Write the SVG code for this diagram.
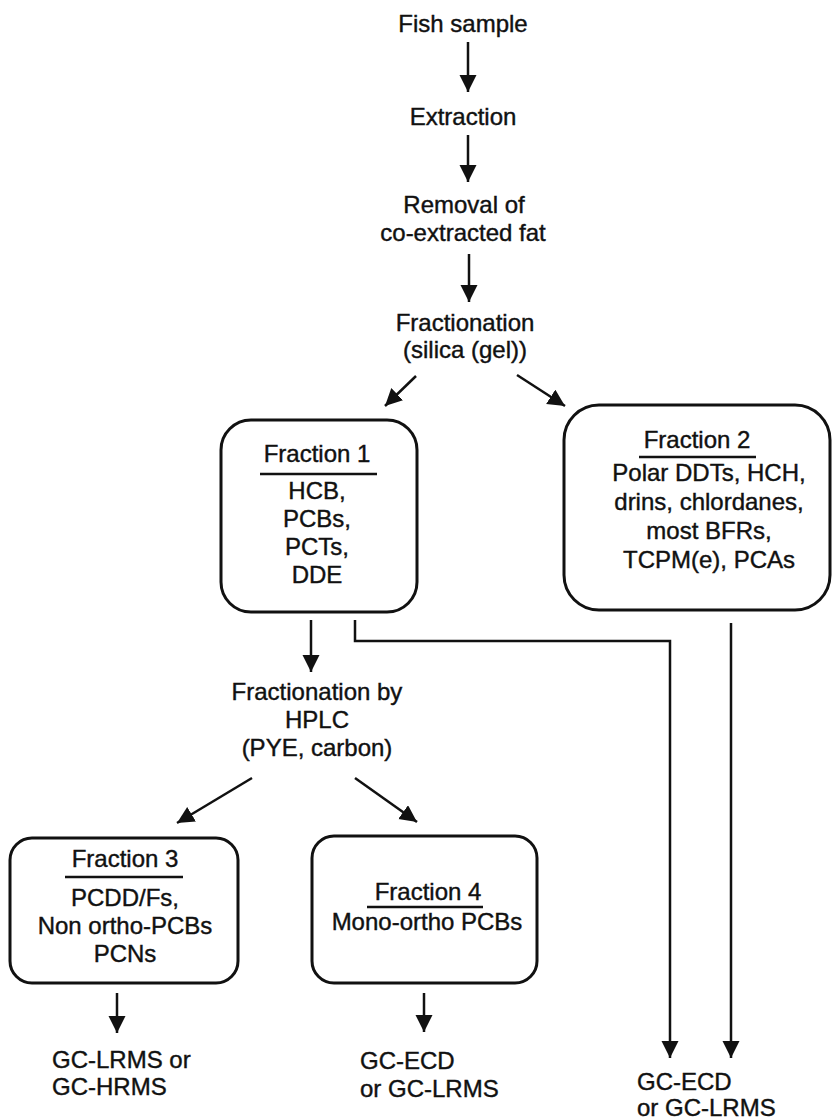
<svg xmlns="http://www.w3.org/2000/svg" width="832" height="1119" viewBox="0 0 832 1119">
<defs>
<style>
text{font-family:"Liberation Sans",Arial,sans-serif;font-size:24px;fill:#111;stroke:#111;stroke-width:0.4}
.c{text-anchor:middle}
.box{fill:none;stroke:#111;stroke-width:3}
.ul{stroke:#111;stroke-width:2.5}
.ln{fill:none;stroke:#111;stroke-width:2.5}
.arr{marker-end:url(#ah)}
</style>
<marker id="ah" markerUnits="userSpaceOnUse" markerWidth="18" markerHeight="18" refX="17" refY="8.5" orient="auto">
<path d="M0,0 L17,8.5 L0,17 z" fill="#111"/>
</marker>
</defs>
<rect width="832" height="1119" fill="#fff"/>
<g id="n1"><text class="c" x="463" y="32">Fish sample</text></g>
<g id="n2"><text class="c" x="463" y="125">Extraction</text></g>
<g id="n3"><text class="c" x="464" y="213">Removal of</text><text class="c" x="463" y="241">co-extracted fat</text></g>
<g id="n4"><text class="c" x="465" y="331">Fractionation</text><text class="c" x="465" y="358">(silica (gel))</text></g>
<g id="f1">
<rect class="box" x="221" y="420" width="196" height="192" rx="30"/>
<text class="c" x="317" y="462">Fraction 1</text>
<line class="ul" x1="260" y1="474" x2="377" y2="474"/>
<text class="c" x="317" y="499">HCB,</text>
<text class="c" x="317" y="527">PCBs,</text>
<text class="c" x="317" y="555">PCTs,</text>
<text class="c" x="317" y="583">DDE</text>
</g>
<g id="f2">
<rect class="box" x="564" y="405" width="266" height="205" rx="35"/>
<text class="c" x="697" y="448">Fraction 2</text>
<line class="ul" x1="639" y1="457" x2="756" y2="457"/>
<text class="c" x="709" y="481">Polar DDTs, HCH,</text>
<text class="c" x="709" y="510">drins, chlordanes,</text>
<text class="c" x="709" y="539">most BFRs,</text>
<text class="c" x="709" y="568">TCPM(e), PCAs</text>
</g>
<g id="n5"><text class="c" x="317" y="700">Fractionation by</text><text class="c" x="317" y="728">HPLC</text><text class="c" x="317" y="756">(PYE, carbon)</text></g>
<g id="f3">
<rect class="box" x="10" y="838" width="228" height="145" rx="22"/>
<text class="c" x="125" y="867">Fraction 3</text>
<line class="ul" x1="65" y1="877" x2="183" y2="877"/>
<text class="c" x="125" y="906">PCDD/Fs,</text>
<text class="c" x="125" y="934">Non ortho-PCBs</text>
<text class="c" x="125" y="962">PCNs</text>
</g>
<g id="f4">
<rect class="box" x="312" y="836" width="225" height="147" rx="22"/>
<text class="c" x="428" y="900">Fraction 4</text>
<line class="ul" x1="367" y1="907" x2="483" y2="907"/>
<text class="c" x="427" y="930">Mono-ortho PCBs</text>
</g>
<g id="o1"><text x="52" y="1068">GC-LRMS or</text><text x="52" y="1095">GC-HRMS</text></g>
<g id="o2"><text x="360" y="1069">GC-ECD</text><text x="360" y="1097">or GC-LRMS</text></g>
<g id="o3"><text x="637" y="1090">GC-ECD</text><text x="637" y="1116">or GC-LRMS</text></g>
<g id="connectors">
<line class="ln arr" x1="468" y1="42" x2="468" y2="92"/>
<line class="ln arr" x1="468" y1="135" x2="468" y2="182"/>
<line class="ln arr" x1="469" y1="254" x2="469" y2="302"/>
<line class="ln arr" x1="416" y1="376" x2="385" y2="406"/>
<line class="ln arr" x1="517" y1="375" x2="565" y2="406"/>
<line class="ln arr" x1="311" y1="620" x2="311" y2="672"/>
<polyline class="ln arr" points="355,620 355,641 670,641 670,1058"/>
<line class="ln arr" x1="731" y1="623" x2="731" y2="1058"/>
<line class="ln arr" x1="252" y1="778" x2="177" y2="823"/>
<line class="ln arr" x1="355" y1="778" x2="417" y2="822"/>
<line class="ln arr" x1="117" y1="993" x2="117" y2="1033"/>
<line class="ln arr" x1="424" y1="993" x2="424" y2="1032"/>
</g>
</svg>
